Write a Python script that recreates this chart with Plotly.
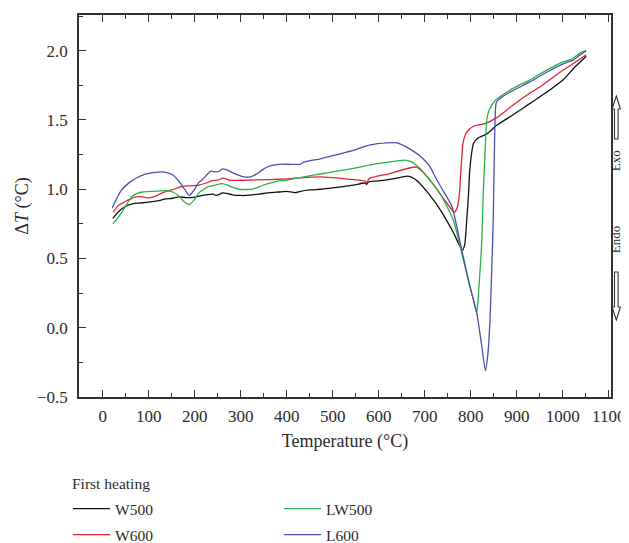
import plotly.graph_objects as go

# ---------------- data ----------------
w500_T = [22, 35, 50, 65, 79, 95, 108, 125, 137, 152, 166, 180, 195, 210, 224, 240, 246, 255, 260, 270,
          282, 300, 311, 340, 364, 383, 400, 418, 430, 450, 473, 500, 545, 570, 574, 577, 581, 600, 630,
          653, 664, 680, 690, 708, 726, 745, 762, 772, 782, 787, 791, 795, 798, 802, 806, 816, 835, 856,
          893, 929, 965, 1001, 1023, 1051]
w500_dT = [0.79, 0.84, 0.877, 0.895, 0.90, 0.905, 0.91, 0.92, 0.93, 0.935, 0.945, 0.94, 0.94, 0.95, 0.96,
           0.965, 0.955, 0.965, 0.974, 0.97, 0.96, 0.955, 0.955, 0.965, 0.975, 0.98, 0.985, 0.975, 0.985,
           0.995, 1.0, 1.01, 1.03, 1.045, 1.035, 1.05, 1.055, 1.06, 1.075, 1.09, 1.094, 1.07, 1.04, 0.97,
           0.89, 0.79, 0.69, 0.62, 0.56, 0.60, 0.76, 0.95, 1.14, 1.26, 1.33, 1.37, 1.40, 1.46, 1.54, 1.62,
           1.70, 1.79, 1.87, 1.96]

w600_T = [23, 33, 43, 57, 72, 87, 101, 115, 130, 150, 173, 190, 209, 225, 238, 250, 260, 268, 275, 300,
          364, 400, 473, 545, 570, 574, 577, 581, 620, 682, 700, 720, 737, 755, 764, 770, 775, 778, 781,
          783, 791, 806, 831, 856, 893, 929, 951, 972, 994, 1015, 1051]
w600_dT = [0.834, 0.88, 0.90, 0.925, 0.945, 0.945, 0.938, 0.95, 0.974, 0.995, 1.02, 1.025, 1.03, 1.045,
           1.063, 1.065, 1.08, 1.075, 1.065, 1.065, 1.07, 1.075, 1.09, 1.07, 1.06, 1.045, 1.065, 1.08,
           1.11, 1.16, 1.11, 1.03, 0.95, 0.87, 0.834, 0.86, 0.95, 1.10, 1.25, 1.33, 1.41, 1.455, 1.474,
           1.515, 1.61, 1.695, 1.74, 1.79, 1.845, 1.89, 1.97]

lw500_T = [22, 32, 43, 54, 64, 75, 86, 110, 137, 152, 166, 177, 188, 198, 209, 220, 231, 245, 260, 271,
           282, 297, 311, 330, 347, 364, 383, 400, 437, 473, 509, 545, 574, 620, 657, 670, 690, 710, 733,
           762, 784, 806, 813, 817, 821, 824, 827, 831, 835, 840, 853, 893, 929, 965, 1001, 1020, 1038, 1051]
lw500_dT = [0.75, 0.79, 0.84, 0.90, 0.95, 0.97, 0.98, 0.985, 0.99, 0.98, 0.95, 0.91, 0.89, 0.92, 0.974,
            1.00, 1.02, 1.03, 1.04, 1.03, 1.015, 1.00, 0.998, 1.005, 1.027, 1.045, 1.06, 1.065, 1.09, 1.11,
            1.13, 1.15, 1.17, 1.195, 1.21, 1.20, 1.15, 1.07, 0.97, 0.78, 0.49, 0.20, 0.108, 0.25, 0.45,
            0.62, 0.95, 1.25, 1.50, 1.57, 1.64, 1.73, 1.79, 1.86, 1.92, 1.94, 1.985, 2.0]

l600_T = [21, 30, 40, 57, 75, 93, 110, 130, 151, 165, 178, 188, 198, 209, 217, 228, 235, 246, 253, 260,
          270, 282, 296, 311, 322, 333, 347, 361, 383, 410, 429, 437, 473, 509, 545, 581, 618, 640, 668,
          690, 710, 726, 740, 759, 780, 798, 813, 824, 832, 837, 842, 846, 849, 853, 856, 870, 893, 929,
          965, 1001, 1012, 1022, 1038, 1051]
l600_dT = [0.866, 0.93, 0.99, 1.046, 1.085, 1.11, 1.12, 1.125, 1.106, 1.06, 1.0, 0.955, 0.99, 1.05, 1.07,
           1.11, 1.13, 1.125, 1.13, 1.147, 1.14, 1.12, 1.10, 1.087, 1.09, 1.107, 1.14, 1.166, 1.18, 1.18,
           1.18, 1.195, 1.22, 1.25, 1.28, 1.32, 1.335, 1.335, 1.29, 1.24, 1.17, 1.07, 0.99, 0.877, 0.57,
           0.30, 0.11, -0.13, -0.31, -0.20, 0.06, 0.45, 0.78, 1.50, 1.63, 1.67, 1.715, 1.775, 1.845, 1.905,
           1.92, 1.93, 1.97, 2.0]

series_names = ["W500", "W600", "LW500", "L600"]
x_tick_vals = [0, 100, 200, 300, 400, 500, 600, 700, 800, 900, 1000, 1100]
y_tick_vals = [-0.5, 0.0, 0.5, 1.0, 1.5, 2.0]
legend_title = "First heating"
x_title = "Temperature (°C)"
y_title = "Δ<i>T</i> (°C)"

# ---------------- figure ----------------
OFF = 8  # page body margin
W, H = 629 - OFF, 543 - OFF
L, R, T, B = 79 - OFF, 611 - OFF, 15 - OFF, 397 - OFF
FONT = "Liberation Serif, Times New Roman, serif"
TXT = "#2b2b2b"

fig = go.Figure()
traces = [
    (w500_T, w500_dT, series_names[0], "#111111", "legend"),
    (w600_T, w600_dT, series_names[1], "#e2252d", "legend"),
    (lw500_T, lw500_dT, series_names[2], "#27b24a", "legend2"),
    (l600_T, l600_dT, series_names[3], "#4d4fae", "legend2"),
]
for xs, ys, name, col, leg in traces:
    fig.add_trace(go.Scatter(x=xs, y=ys, name=name, mode="lines", legend=leg, legendgroup=name,
                             line=dict(color=col, width=1.3, shape="spline", smoothing=0.6)))

fig.update_xaxes(range=[-51.5, 1105], tickvals=x_tick_vals, ticks="inside", ticklen=7,
                 tickwidth=1.3, tickcolor="#333", showline=True, linecolor="#333", linewidth=1.5,
                 mirror="ticks", showgrid=False, zeroline=False, ticklabelstandoff=3,
                 minor=dict(dtick=50, tick0=0, ticks="inside", ticklen=4, tickwidth=1.1, tickcolor="#333"),
                 tickfont=dict(family=FONT, size=17, color=TXT),
                 title=dict(text=x_title, font=dict(family=FONT, size=18, color=TXT), standoff=9))
fig.update_yaxes(range=[-0.5, 2.258], tickvals=y_tick_vals, tickformat=".1f", ticks="inside", ticklen=7,
                 tickwidth=1.3, tickcolor="#333", showline=True, linecolor="#333", linewidth=1.5,
                 mirror=True, showgrid=False, zeroline=False, ticklabelstandoff=6,
                 minor=dict(dtick=0.25, tick0=0, ticks="inside", ticklen=4, tickwidth=1.1, tickcolor="#333"),
                 tickfont=dict(family=FONT, size=17, color=TXT),
                 title=dict(text=y_title, font=dict(family=FONT, size=18, color=TXT), standoff=4))

def px2paper(px, py):
    # px, py are absolute screenshot pixels
    return (px - OFF - L) / (R - L), (B - (py - OFF)) / (B - T)

# Exo / Endo labels (kept inside the visible area)
for text, ypx in [("Exo", 161), ("Endo", 240)]:
    xp, yp = px2paper(615.2, ypx)
    fig.add_annotation(text=text, x=xp, y=yp, xref="paper", yref="paper", showarrow=False,
                       textangle=-90, font=dict(family=FONT, size=13, color=TXT),
                       xanchor="center", yanchor="middle", borderpad=0)

def block_arrow(cx, tip, base, up=True):
    hw, sw, hh = 4.2, 1.8, 13
    hb = tip + hh if up else tip - hh
    pts = [(cx, tip), (cx + hw, hb), (cx + sw, hb), (cx + sw, base),
           (cx - sw, base), (cx - sw, hb), (cx - hw, hb)]
    path = ""
    for i, (a, b) in enumerate(pts):
        xp, yp = px2paper(a, b)
        path += ("M" if i == 0 else "L") + f"{xp:.5f},{yp:.5f} "
    path += "Z"
    fig.add_shape(type="path", path=path, xref="paper", yref="paper",
                  line=dict(color="#333", width=1.1), fillcolor="white")

block_arrow(616.3, 96, 139, up=True)
block_arrow(616.3, 320, 272, up=False)

# legend heading
hx, hy = px2paper(70, 483)
fig.add_annotation(text=legend_title, x=hx, y=hy, xref="paper", yref="paper", showarrow=False,
                   xanchor="left", yanchor="middle", font=dict(family=FONT, size=15.5, color=TXT))

leg_font = dict(family=FONT, size=15.5, color=TXT)
lx1, _ = px2paper(60 + OFF, 0)
lx2, _ = px2paper(271 + OFF, 0)
_, ly = px2paper(0, 492)
fig.update_layout(
    width=W, height=H, paper_bgcolor="white", plot_bgcolor="white",
    margin=dict(l=L, r=W - R, t=T, b=H - B, autoexpand=False),
    showlegend=True,
    legend=dict(orientation="v", x=lx1, xanchor="left", y=ly, yanchor="top", itemwidth=37,
                tracegroupgap=3, font=leg_font, bgcolor="rgba(0,0,0,0)"),
    legend2=dict(orientation="v", x=lx2, xanchor="left", y=ly, yanchor="top", itemwidth=37,
                 tracegroupgap=3, font=leg_font, bgcolor="rgba(0,0,0,0)"),
    font=dict(family=FONT, size=15, color=TXT),
)

fig.write_html("out.html")
